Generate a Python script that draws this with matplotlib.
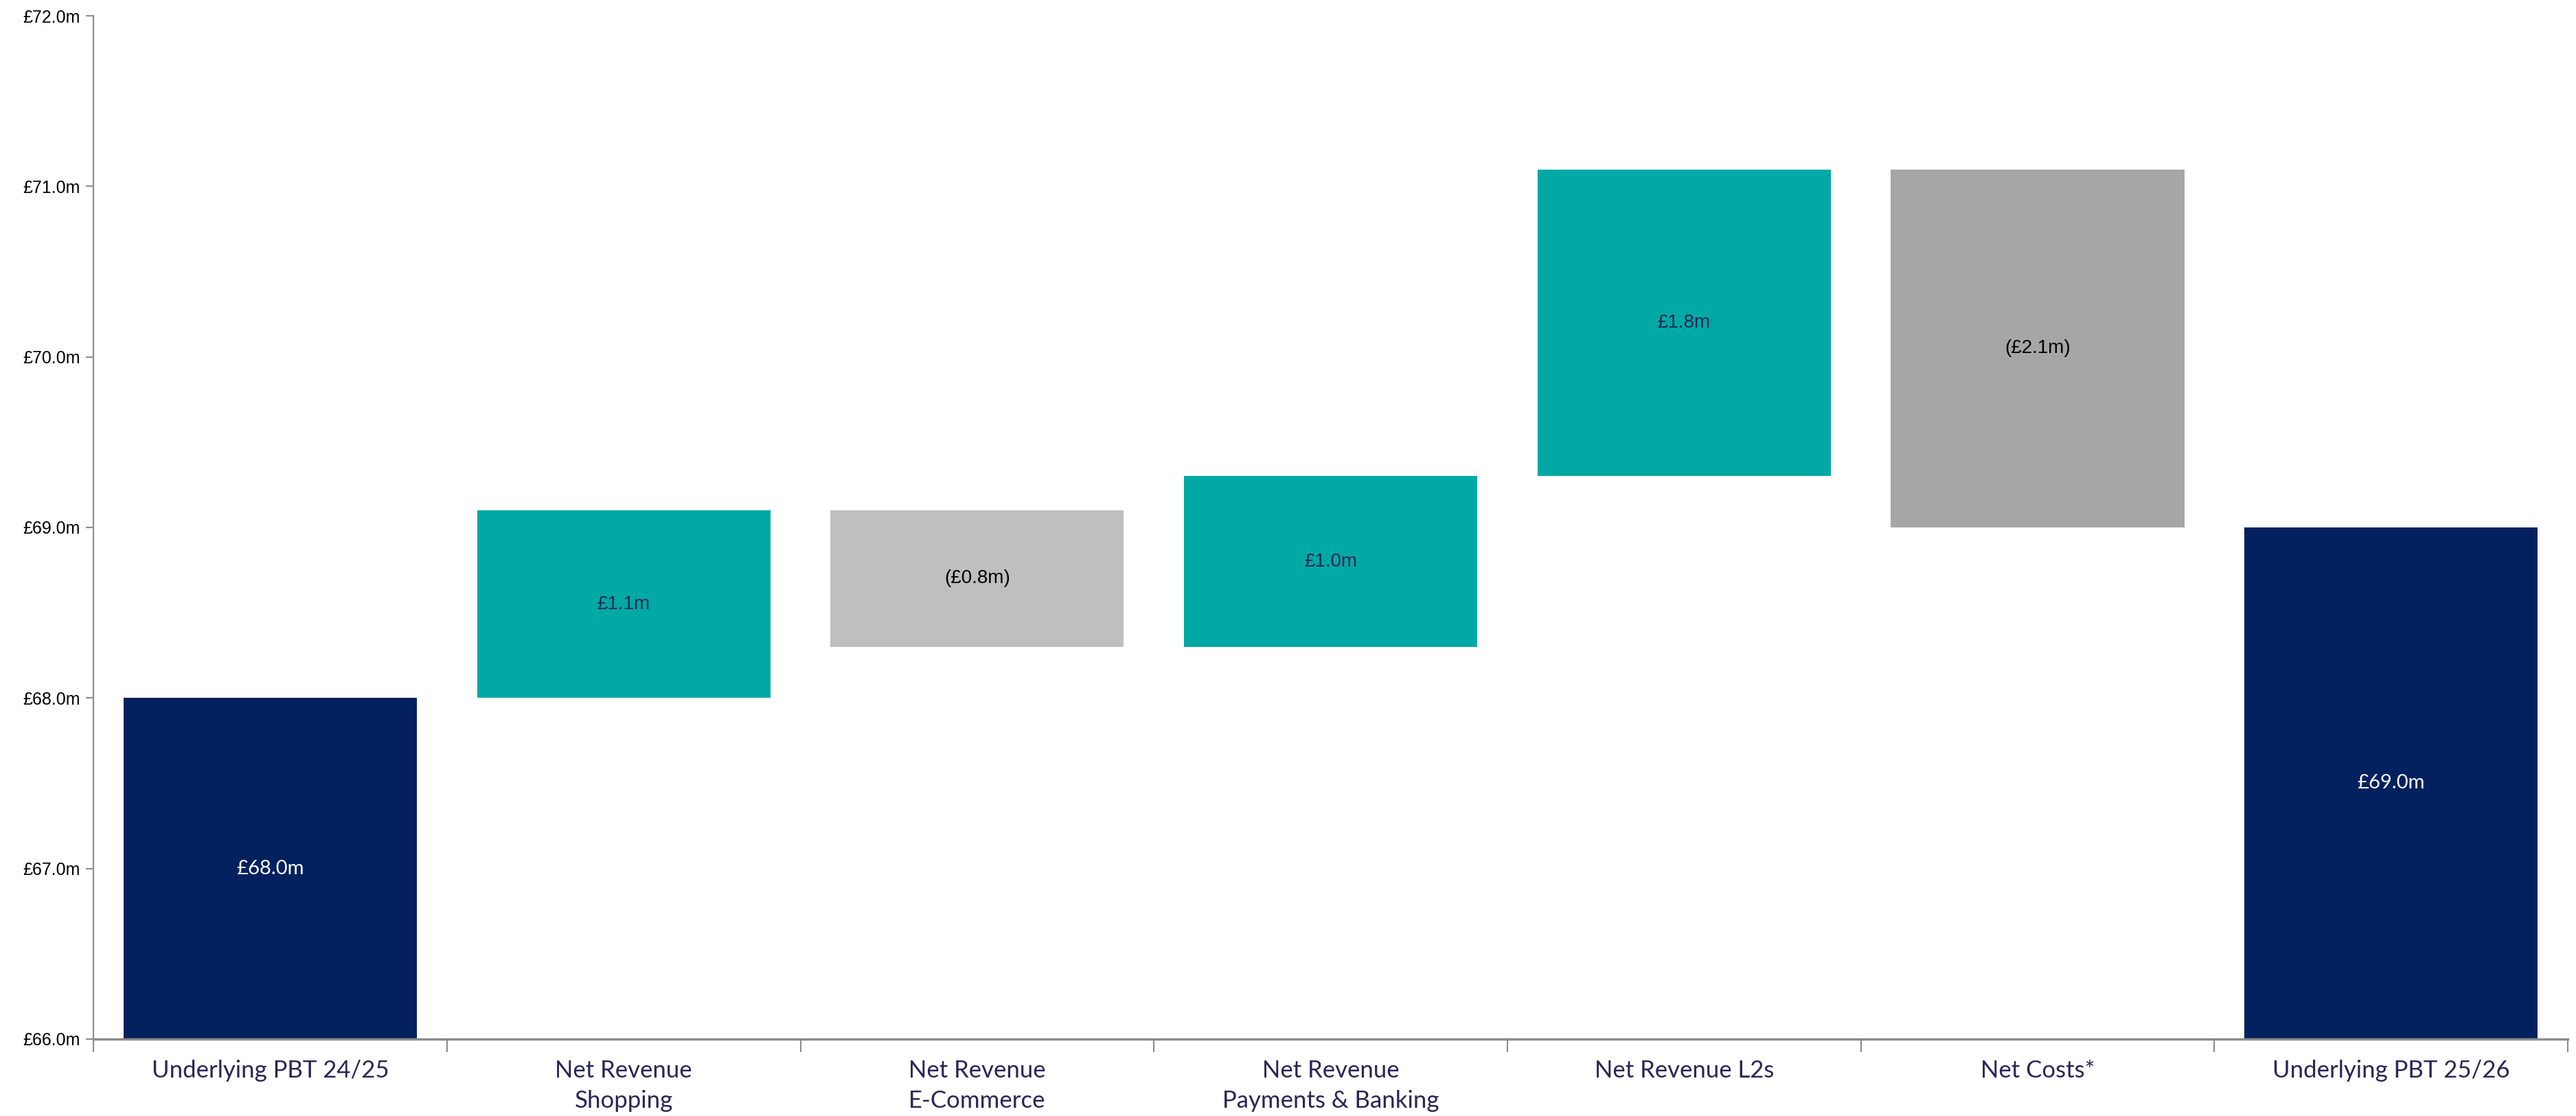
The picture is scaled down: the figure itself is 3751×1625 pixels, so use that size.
import matplotlib
matplotlib.use("Agg")
import matplotlib.pyplot as plt

# Waterfall data (GBP m)
categories = ["Underlying PBT 24/25", "Net Revenue\nShopping", "Net Revenue\nE-Commerce",
              "Net Revenue\nPayments & Banking", "Net Revenue L2s", "Net Costs*",
              "Underlying PBT 25/26"]
start_value = 68.0
deltas = [1.1, -0.8, 1.0, 1.8, -2.1]
end_value = 69.0

y_ticks = [66.0, 67.0, 68.0, 69.0, 70.0, 71.0, 72.0]

navy = "#03215F"
teal = "#00A9A5"
light_grey = "#BFBFBF"
mid_grey = "#A6A6A6"
label_col = "#2B2556"
axis_col = "#8C8C8C"

fig = plt.figure(figsize=(37.51, 16.25), dpi=100)
ax = fig.add_axes([0.0363, 0.069, 0.9605, 0.9168])

width = 0.83

# first total
ax.bar(0, start_value, width=width, color=navy)
ax.text(0, (66.0 + start_value) / 2, "£%.1fm" % start_value, ha="center", va="center",
        color="white", fontsize=21, family="Lato")

# steps
level = start_value
grey_cols = [light_grey, mid_grey]
g = 0
for i, d in enumerate(deltas):
    x = i + 1
    bottom = level if d > 0 else level + d
    if d > 0:
        col = teal
        txt = "£%.1fm" % d
        tcol = label_col
    else:
        col = grey_cols[g % 2]
        g += 1
        txt = "(£%.1fm)" % abs(d)
        tcol = "black"
    ax.bar(x, abs(d), bottom=bottom, width=width, color=col)
    ax.text(x, bottom + abs(d) / 2, txt, ha="center", va="center", color=tcol,
            fontsize=20, family="Liberation Sans")
    level += d

# closing total
ax.bar(6, end_value, width=width, color=navy)
ax.text(6, (66.0 + end_value) / 2, "£%.1fm" % end_value, ha="center", va="center",
        color="white", fontsize=21, family="Lato")

ax.set_xlim(-0.5, 6.5)
ax.set_ylim(66.0, 72.0)
ax.set_yticks(y_ticks)
ax.set_yticklabels(["£%.1fm" % v for v in y_ticks], fontsize=18, family="Liberation Sans")

ax.set_xticks(range(len(categories)))
ax.set_xticklabels(categories, fontsize=25, family="Lato", color=label_col, linespacing=1.45)
ax.set_xticks([i - 0.5 for i in range(len(categories) + 1)], minor=True)
ax.tick_params(axis="x", which="major", length=0, pad=22)
ax.tick_params(axis="x", which="minor", length=14, width=1.5, color=axis_col, direction="out")
ax.tick_params(axis="y", length=8, width=1.5, color=axis_col, pad=6)

for s in ["top", "right"]:
    ax.spines[s].set_visible(False)
for s in ["left", "bottom"]:
    ax.spines[s].set_color(axis_col)
ax.spines["left"].set_linewidth(1.5)
ax.spines["bottom"].set_linewidth(2.5)

fig.savefig("out.png", dpi=100, facecolor="white")
